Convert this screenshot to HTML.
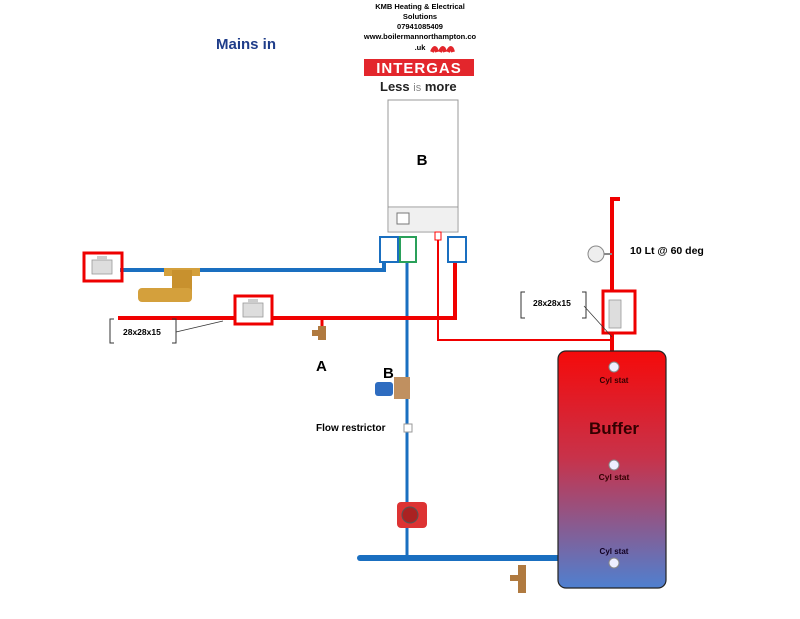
<!DOCTYPE html>
<html><head><style>
body{margin:0;width:800px;height:614px;background:#fff;overflow:hidden;font-family:"Liberation Sans",sans-serif}
svg text{font-family:"Liberation Sans",sans-serif}
</style></head><body>
<svg width="800" height="614" viewBox="0 0 800 614" xmlns="http://www.w3.org/2000/svg">
<defs>
<linearGradient id="tg" x1="0" y1="0" x2="0" y2="1">
<stop offset="0" stop-color="#f50a0a"/><stop offset="0.45" stop-color="#c8324a"/><stop offset="1" stop-color="#4f80d0"/>
</linearGradient>
<g id="valve"><rect x="0" y="0" width="36" height="26" fill="#fff"/><rect x="8" y="7" width="20" height="14" fill="#ddd" stroke="#999" stroke-width="0.8"/><rect x="13" y="3" width="10" height="4" fill="#ccc"/></g>
</defs>
<!-- header text -->
<text x="420" y="9" font-size="7.5" font-weight="bold" text-anchor="middle">KMB Heating &amp; Electrical</text>
<text x="420" y="19" font-size="7.5" font-weight="bold" text-anchor="middle">Solutions</text>
<text x="420" y="29" font-size="7.5" font-weight="bold" text-anchor="middle">07941085409</text>
<text x="420" y="39" font-size="7.5" font-weight="bold" text-anchor="middle">www.boilermannorthampton.co</text>
<text x="420" y="50" font-size="7.5" font-weight="bold" text-anchor="middle">.uk</text>
<path d="M432 52 q3 -8 5 0 M440 52 q3 -8 5 0 M448 52 q3 -8 5 0" stroke="#e3262c" stroke-width="4" fill="none"/>
<rect x="364" y="59" width="110" height="17" fill="#e3262c"/>
<text x="419" y="73" font-size="15" font-weight="bold" fill="#fff" text-anchor="middle" letter-spacing="1">INTERGAS</text>
<text x="380" y="91" font-size="13" font-weight="bold" fill="#222">Less <tspan font-weight="normal" fill="#888" font-size="11">is</tspan> more</text>
<text x="216" y="49" font-size="15" font-weight="bold" fill="#1f3d8a">Mains in</text>
<!-- boiler -->
<rect x="388" y="100" width="70" height="132" fill="#fff" stroke="#999"/>
<line x1="388" y1="207" x2="458" y2="207" stroke="#999"/>
<rect x="389" y="208" width="68" height="23" fill="#f0f0f0"/>
<rect x="397" y="213" width="12" height="11" fill="#fff" stroke="#777"/>
<text x="422" y="165" font-size="15" font-weight="bold" text-anchor="middle">B</text>
<!-- pipes -->
<path d="M120 270 H384 V262" stroke="#1a6fc0" stroke-width="4" fill="none"/>
<line x1="407" y1="262" x2="407" y2="558" stroke="#1a6fc0" stroke-width="3"/>
<line x1="360" y1="558" x2="562" y2="558" stroke="#1a6fc0" stroke-width="6" stroke-linecap="round"/>
<path d="M118 318 H455 V262" stroke="#f00000" stroke-width="4" fill="none"/>
<path d="M438 232 V340 H612" stroke="#f00000" stroke-width="2" fill="none"/>
<path d="M612 352 V199 H620" stroke="#f00000" stroke-width="4" fill="none"/>
<line x1="612" y1="318" x2="612" y2="355" stroke="#f00000" stroke-width="4"/>
<line x1="322" y1="318" x2="322" y2="326" stroke="#f00000" stroke-width="3"/>
<!-- boiler valves -->
<rect x="380" y="237" width="18" height="25" fill="#fff" stroke="#1a6fc0" stroke-width="2"/>
<rect x="400" y="237" width="16" height="25" fill="#fff" stroke="#2aa05a" stroke-width="2"/>
<rect x="435" y="232" width="6" height="8" fill="#fff" stroke="#f00" stroke-width="1"/>
<rect x="448" y="237" width="18" height="25" fill="#fff" stroke="#1a6fc0" stroke-width="2"/>
<!-- red valves -->
<use href="#valve" x="84" y="253"/><rect x="84" y="253" width="38" height="28" fill="none" stroke="#e00" stroke-width="3"/>
<use href="#valve" x="235" y="296"/><rect x="235" y="296" width="37" height="28" fill="none" stroke="#e00" stroke-width="3"/>
<rect x="603" y="291" width="32" height="42" fill="#fff" stroke="#e00" stroke-width="3"/>
<rect x="609" y="300" width="12" height="28" fill="#ddd" stroke="#999" stroke-width="0.8"/>
<!-- filter brass -->
<rect x="164" y="268" width="36" height="8" fill="#d4a03c"/>
<rect x="172" y="270" width="20" height="22" fill="#c8912e"/>
<rect x="138" y="288" width="54" height="14" rx="4" fill="#d4a03c"/>
<!-- drain A -->
<path d="M318 326 h8 v14 h-8z M312 330 h8 v6 h-8z" fill="#b07a40"/>
<text x="316" y="371" font-size="15" font-weight="bold">A</text>
<!-- B valve -->
<text x="383" y="378" font-size="15" font-weight="bold">B</text>
<rect x="375" y="382" width="18" height="14" rx="3" fill="#2e6cc0"/>
<rect x="394" y="377" width="16" height="22" fill="#c09060"/>
<rect x="404" y="424" width="8" height="8" fill="#fff" stroke="#999"/>
<text x="316" y="431" font-size="10" font-weight="bold">Flow restrictor</text>
<!-- pump -->
<rect x="397" y="502" width="30" height="26" rx="4" fill="#d33"/>
<circle cx="410" cy="515" r="8" fill="#a22" stroke="#555"/>
<!-- bottom drain -->
<path d="M518 565 h8 v28 h-8z M510 575 h8 v6 h-8z" fill="#b07a40"/>
<!-- gauge -->
<circle cx="596" cy="254" r="8" fill="#eee" stroke="#888"/>
<line x1="604" y1="254" x2="612" y2="254" stroke="#888" stroke-width="2"/>
<text x="630" y="254" font-size="10.5" font-weight="bold">10 Lt @ 60 deg</text>
<!-- brackets -->
<path d="M114 319 h-4 v24 h4 M172 319 h4 v24 h-4" stroke="#333" fill="none"/>
<text x="123" y="335" font-size="8.5" font-weight="bold">28x28x15</text>
<line x1="176" y1="332" x2="223" y2="321" stroke="#333" stroke-width="0.7"/>
<path d="M525 292 h-4 v26 h4 M582 292 h4 v26 h-4" stroke="#333" fill="none"/>
<text x="533" y="306" font-size="8.5" font-weight="bold">28x28x15</text>
<line x1="584" y1="306" x2="612" y2="337" stroke="#333" stroke-width="0.7"/>
<!-- tank -->
<rect x="558" y="351" width="108" height="237" rx="8" fill="url(#tg)" stroke="#222" stroke-width="1.2"/>
<circle cx="614" cy="367" r="5" fill="#eef" stroke="#888"/>
<text x="614" y="383" font-size="8" font-weight="bold" text-anchor="middle" fill="#300">Cyl stat</text>
<text x="614" y="434" font-size="17" font-weight="bold" text-anchor="middle" fill="#300">Buffer</text>
<circle cx="614" cy="465" r="5" fill="#eef" stroke="#888"/>
<text x="614" y="480" font-size="8.5" font-weight="bold" text-anchor="middle" fill="#300">Cyl stat</text>
<text x="614" y="554" font-size="8" font-weight="bold" text-anchor="middle" fill="#102">Cyl stat</text>
<circle cx="614" cy="563" r="5" fill="#eef" stroke="#888"/>
</svg>
</body></html>
